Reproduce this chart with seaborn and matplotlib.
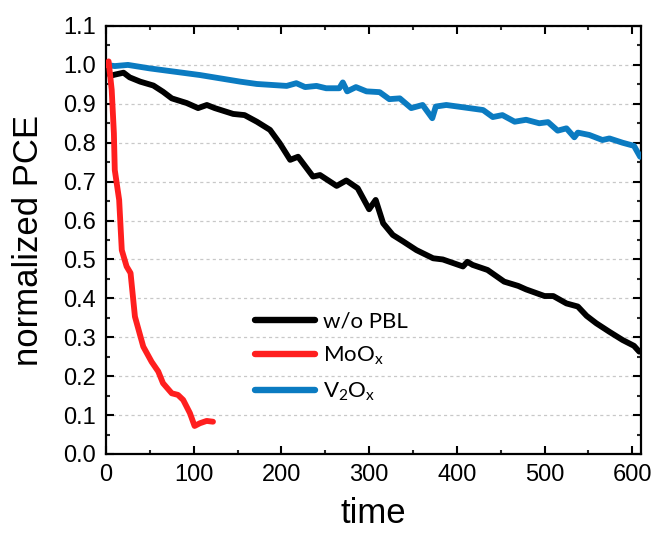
import numpy as np
import pandas as pd
import seaborn as sns
import matplotlib
matplotlib.use("Agg")
import matplotlib.pyplot as plt
from matplotlib.lines import Line2D

# ---- data ----
black_t = [0, 5, 10, 20, 27, 39, 54, 65, 75, 92, 105, 115, 124, 145, 158, 172, 187, 198,
           210, 219, 236, 244, 263, 274, 287, 300, 307.5, 316, 327, 339, 354, 373, 384,
           407, 412, 418, 435, 454, 470, 479, 500, 510, 525, 538, 548, 559, 574, 589, 602, 608]
black_v = [1.0, 0.972, 0.975, 0.980, 0.968, 0.957, 0.947, 0.931, 0.914, 0.902, 0.889, 0.897,
           0.889, 0.874, 0.871, 0.854, 0.833, 0.799, 0.756, 0.764, 0.713, 0.717, 0.689, 0.703,
           0.683, 0.629, 0.653, 0.593, 0.563, 0.546, 0.524, 0.503, 0.500, 0.482, 0.494, 0.486,
           0.473, 0.443, 0.432, 0.423, 0.406, 0.406, 0.387, 0.379, 0.355, 0.336, 0.314, 0.293,
           0.278, 0.263]

blue_t = [0, 10, 25, 50, 107, 153, 172, 206, 217, 227, 240, 251, 266, 270, 275, 285, 297, 312,
          323, 335, 348, 361, 372, 376, 388, 414, 430, 441, 452, 466, 479, 494, 504, 515, 525,
          534, 538, 551, 566, 574, 589, 602, 609]
blue_v = [1.0, 0.997, 1.0, 0.991, 0.974, 0.957, 0.951, 0.946, 0.953, 0.943, 0.946, 0.940, 0.940,
          0.955, 0.932, 0.943, 0.932, 0.930, 0.912, 0.914, 0.889, 0.897, 0.863, 0.893, 0.897,
          0.889, 0.884, 0.866, 0.871, 0.854, 0.859, 0.850, 0.853, 0.831, 0.837, 0.814, 0.826,
          0.820, 0.807, 0.811, 0.800, 0.792, 0.764]

red_t = [0, 3, 6.5, 9, 10, 15, 18, 23.5, 28, 33, 42.5, 52, 59.6, 65, 75, 82, 88, 95.7, 101,
         107, 114.7, 122]
red_v = [1.0, 1.009, 0.936, 0.824, 0.730, 0.653, 0.524, 0.482, 0.465, 0.353, 0.276, 0.237,
         0.212, 0.182, 0.156, 0.152, 0.139, 0.105, 0.072, 0.079, 0.085, 0.083]

series_names = ["w/o PBL", r"MoO$_\mathregular{x}$", r"V$_\mathregular{2}$O$_\mathregular{x}$"]
series_colors = ["#000000", "#ff1f1f", "#0b7bc1"]

x_ticks = [0, 100, 200, 300, 400, 500, 600]
y_ticks = [0.0, 0.1, 0.2, 0.3, 0.4, 0.5, 0.6, 0.7, 0.8, 0.9, 1.0, 1.1]

# ---- style ----
sns.set_style("ticks")
plt.rcParams["font.family"] = ["Liberation Sans", "DejaVu Sans"]
plt.rcParams["mathtext.fontset"] = "custom"
plt.rcParams["mathtext.rm"] = "Lato"
plt.rcParams["mathtext.it"] = "Lato:italic"
plt.rcParams["text.color"] = "black"
plt.rcParams["axes.labelcolor"] = "black"

fig = plt.figure(figsize=(6.55, 5.33), dpi=100)
ax = fig.add_axes([106/655, (533-454)/533, 535/655, 428/533])

df_black = pd.DataFrame({"t": black_t, "v": black_v})
df_blue = pd.DataFrame({"t": blue_t, "v": blue_v})
df_red = pd.DataFrame({"t": red_t, "v": red_v})

lw = 4.2
sns.lineplot(data=df_black, x="t", y="v", ax=ax, color=series_colors[0], lw=lw,
             sort=False, estimator=None, zorder=3, solid_joinstyle="round", solid_capstyle="round")
sns.lineplot(data=df_blue, x="t", y="v", ax=ax, color=series_colors[2], lw=lw,
             sort=False, estimator=None, zorder=4, solid_joinstyle="round", solid_capstyle="round")
sns.lineplot(data=df_red, x="t", y="v", ax=ax, color=series_colors[1], lw=lw,
             sort=False, estimator=None, zorder=5, solid_joinstyle="round", solid_capstyle="round")

ax.set_xlim(0, 610)
ax.set_ylim(0, 1.1)
ax.set_xticks(x_ticks)
ax.set_yticks(y_ticks)
ax.set_yticklabels([f"{v:.1f}" for v in y_ticks])
ax.set_xticks(np.arange(50, 610, 100), minor=True)
ax.set_yticks(np.arange(0.05, 1.1, 0.1), minor=True)

ax.yaxis.grid(True, which="major", linestyle=(0, (2.5, 2.5)), color="#c8c8c8", lw=0.9, zorder=0)
ax.set_axisbelow(True)

for s in ax.spines.values():
    s.set_linewidth(1.6)
    s.set_color("black")
    s.set_visible(True)

ax.tick_params(which="major", direction="in", length=6, width=1.5, top=True, right=True,
               labelsize=17, pad=7, colors="black")
ax.tick_params(which="minor", direction="in", length=3.2, width=1.5, top=True, right=True)

ax.set_xlabel("time", fontsize=25, labelpad=8, color="black")
ax.set_ylabel("normalized PCE", fontsize=25, labelpad=13, color="black")

handles = [Line2D([], [], color=c, lw=4.6, solid_capstyle="round") for c in series_colors]
leg = ax.legend(handles, series_names, loc="upper left", bbox_to_anchor=(0.241, 0.38),
                frameon=False, handlelength=2.7, handletextpad=0.35, labelspacing=0.6,
                prop={"family": "Lato", "size": 16})
for txt in leg.get_texts():
    txt.set_color("black")

fig.savefig("out.png", dpi=100)
